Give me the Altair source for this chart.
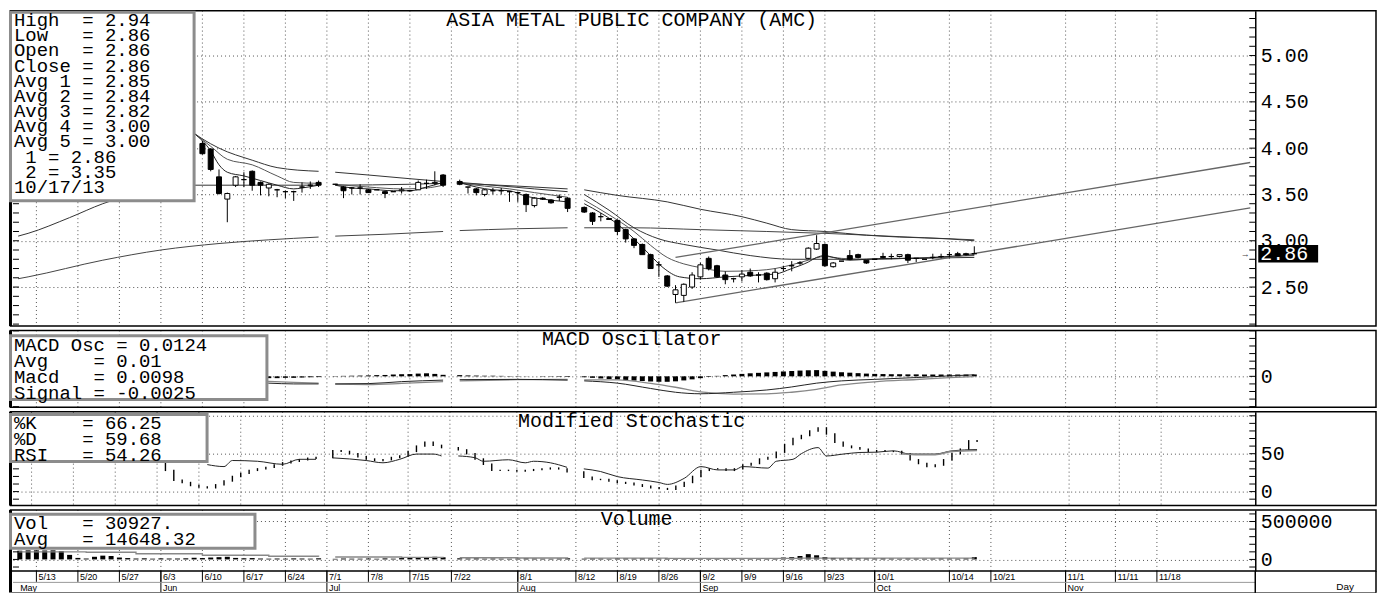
import altair as alt
import pandas as pd
import numpy as np

# ---------------- chart values (trading-day index: 0 = 5/13/2013) ----------------
HOLIDAYS = [35, 50, 65]          # 7/1, 7/22, 8/12 : no session

week_tick = [0, 5, 10, 15, 20, 25, 30, 35, 40, 45, 50, 58, 65, 70, 75, 80, 85, 90, 95, 101, 110, 115, 124, 130, 135]
week_label = ["5/13", "5/20", "5/27", "6/3", "6/10", "6/17", "6/24", "7/1", "7/8", "7/15", "7/22", "8/1",
              "8/12", "8/19", "8/26", "9/2", "9/9", "9/16", "9/23", "10/1", "10/14", "10/21", "11/1", "11/11", "11/18"]
month_tick = [-2.2, 15, 35, 58, 80, 101, 124]
month_label = ["May", "Jun", "Jul", "Aug", "Sep", "Oct", "Nov"]

trade_days = [d for d in range(-2, 114) if d not in HOLIDAYS]
candle_day = [d for d in trade_days if d >= 20]

candle_open = [4.05, 3.99, 3.69, 3.45, 3.60, 3.66, 3.75, 3.63, 3.57, 3.55, 3.53, 3.53, 3.58, 3.60, 3.63,
               3.61, 3.58, 3.57, 3.57, 3.55, 3.55, 3.53, 3.53, 3.54, 3.54, 3.55, 3.62, 3.62, 3.71,
               3.64, 3.58, 3.56, 3.50, 3.54, 3.54, 3.53, 3.52, 3.50, 3.38, 3.46, 3.44, 3.47, 3.46,
               3.36, 3.30, 3.26, 3.24, 3.22, 3.12, 3.02, 2.96, 2.85, 2.74, 2.62, 2.42, 2.41, 2.50, 2.61, 2.81,
               2.73, 2.63, 2.59, 2.61, 2.66, 2.63, 2.65, 2.59, 2.70, 2.73, 2.76, 2.81, 2.91, 2.96, 2.72, 2.78,
               2.84, 2.85, 2.79, 2.80, 2.83, 2.83, 2.83, 2.85, 2.81, 2.80, 2.82, 2.83, 2.85, 2.86, 2.86, 2.86]
candle_high = [4.08, 4.00, 3.77, 3.52, 3.70, 3.74, 3.76, 3.64, 3.62, 3.56, 3.54, 3.54, 3.63, 3.64, 3.65,
               3.61, 3.59, 3.58, 3.61, 3.56, 3.55, 3.54, 3.53, 3.58, 3.55, 3.65, 3.66, 3.75, 3.72,
               3.66, 3.58, 3.57, 3.56, 3.57, 3.57, 3.54, 3.53, 3.51, 3.47, 3.47, 3.45, 3.50, 3.47,
               3.37, 3.31, 3.30, 3.24, 3.23, 3.13, 3.03, 2.97, 2.86, 2.78, 2.63, 2.52, 2.54, 2.66, 2.76, 2.83,
               2.74, 2.67, 2.60, 2.68, 2.70, 2.66, 2.66, 2.70, 2.73, 2.78, 2.78, 2.93, 3.06, 2.97, 2.77, 2.78,
               2.90, 2.86, 2.79, 2.80, 2.87, 2.86, 2.85, 2.86, 2.81, 2.80, 2.86, 2.86, 2.88, 2.88, 2.87, 2.94]
candle_low = [3.93, 3.75, 3.50, 3.20, 3.58, 3.58, 3.54, 3.49, 3.48, 3.47, 3.46, 3.43, 3.52, 3.56, 3.58,
              3.61, 3.46, 3.50, 3.50, 3.52, 3.55, 3.46, 3.53, 3.51, 3.53, 3.55, 3.56, 3.60, 3.58,
              3.60, 3.51, 3.49, 3.48, 3.50, 3.50, 3.42, 3.42, 3.31, 3.36, 3.44, 3.40, 3.43, 3.31,
              3.30, 3.17, 3.21, 3.23, 3.06, 2.98, 2.92, 2.85, 2.70, 2.61, 2.50, 2.33, 2.34, 2.48, 2.58, 2.68,
              2.60, 2.53, 2.55, 2.56, 2.61, 2.55, 2.57, 2.55, 2.67, 2.67, 2.74, 2.80, 2.90, 2.72, 2.71, 2.78,
              2.79, 2.81, 2.75, 2.80, 2.81, 2.80, 2.82, 2.76, 2.77, 2.80, 2.80, 2.81, 2.82, 2.84, 2.84, 2.86]
candle_close = [3.94, 3.77, 3.51, 3.51, 3.69, 3.66, 3.60, 3.60, 3.61, 3.55, 3.53, 3.53, 3.58, 3.60, 3.60,
                3.61, 3.54, 3.57, 3.57, 3.52, 3.55, 3.51, 3.53, 3.55, 3.54, 3.63, 3.62, 3.63, 3.60,
                3.61, 3.58, 3.52, 3.55, 3.54, 3.54, 3.53, 3.52, 3.39, 3.46, 3.45, 3.41, 3.47, 3.35,
                3.31, 3.21, 3.26, 3.23, 3.10, 3.02, 2.95, 2.85, 2.70, 2.74, 2.51, 2.47, 2.53, 2.63, 2.74, 2.70,
                2.61, 2.58, 2.59, 2.64, 2.62, 2.63, 2.58, 2.66, 2.70, 2.73, 2.76, 2.92, 2.97, 2.73, 2.76, 2.78,
                2.80, 2.82, 2.76, 2.80, 2.82, 2.83, 2.85, 2.79, 2.81, 2.80, 2.82, 2.83, 2.85, 2.84, 2.85, 2.86]

avg1_day = [19, 21, 22, 23, 25, 27, 29, 31, 32, 34, 36, 38, 40, 43, 45, 47, 49, 51, 53, 55, 57, 59, 61, 64,
            66, 68, 70, 72, 74, 75.5, 77.5, 80, 83, 87, 89, 91, 93, 94, 95, 96, 98, 100, 103, 106, 110, 113]
avg1_val = [4.16, 3.97, 3.82, 3.74, 3.70, 3.65, 3.60, 3.56, 3.57, 3.60, 3.60, 3.57, 3.56, 3.54, 3.54, 3.58, 3.63,
            3.63, 3.58, 3.55, 3.54, 3.48, 3.45, 3.42,
            3.40, 3.30, 3.18, 3.02, 2.84, 2.71, 2.61, 2.59, 2.61, 2.63, 2.64, 2.70, 2.77, 2.82, 2.84, 2.82, 2.79,
            2.80, 2.81, 2.81, 2.83, 2.85]
avg2_day = [19, 21, 23, 26, 29, 31, 34, 36, 40, 44, 47, 49, 51, 54, 57, 60, 64,
            66, 69, 72, 74, 76, 78, 80, 83, 87, 89, 91, 93, 95, 97, 100, 105, 110, 113]
avg2_val = [4.16, 4.02, 3.88, 3.82, 3.70, 3.63, 3.62, 3.61, 3.58, 3.56, 3.57, 3.60, 3.62, 3.59, 3.56, 3.52, 3.47,
            3.44, 3.28, 3.10, 2.95, 2.82, 2.75, 2.71, 2.67, 2.68, 2.70, 2.74, 2.79, 2.83, 2.81, 2.80, 2.81, 2.83, 2.84]
avg3_day = [19, 20, 22, 26, 29, 34, 36, 40, 45, 49, 51, 55, 60, 64,
            66, 69, 72, 75, 78, 82, 86, 91, 95, 100, 105, 113]
avg3_val = [4.16, 4.10, 4.00, 3.87, 3.79, 3.75, 3.74, 3.71, 3.67, 3.64, 3.63, 3.60, 3.56, 3.53,
            3.50, 3.33, 3.14, 3.02, 2.96, 2.90, 2.84, 2.80, 2.80, 2.80, 2.81, 2.82]
avg4_day = [-2.2, -1, 4, 8, 14, 19, 25, 34, 36, 45, 49, 51, 58, 64,
            66, 70, 76, 80, 85, 88, 91, 95, 100, 104, 110, 113]
avg4_val = [3.05, 3.08, 3.25, 3.40, 3.55, 3.60, 3.60, 3.60, 3.60, 3.61, 3.62, 3.62, 3.59, 3.56,
            3.55, 3.49, 3.42, 3.34, 3.26, 3.19, 3.12, 3.10, 3.06, 3.04, 3.02, 3.00]
avg5_day = [-2.2, -1, 8, 15, 22, 28, 34, 36, 42, 49, 51, 58, 64, 66, 72, 80, 88, 95, 105, 113]
avg5_val = [2.59, 2.61, 2.79, 2.90, 2.97, 3.01, 3.04, 3.05, 3.07, 3.10, 3.11, 3.13, 3.14,
            3.14, 3.14, 3.12, 3.10, 3.08, 3.04, 3.01]

trend_day = [77, 146.25]
trend1_val = [2.33, 3.355]
trend2_val = [2.82, 3.845]

macd_day = [20, 28, 31, 34, 36, 40, 44, 49, 51, 58, 64, 66, 70, 74, 77, 80, 84, 88, 91, 94, 97, 101, 106, 110, 113]
macd_val = [-0.02, -0.045, -0.05, -0.05, -0.05, -0.048, -0.035, -0.025, -0.022, -0.02, -0.025,
            -0.03, -0.045, -0.08, -0.105, -0.115, -0.105, -0.09, -0.07, -0.045, -0.03, -0.02, -0.008, 0.003, 0.0098]
signal_val = [0.0, -0.033, -0.04, -0.045, -0.052, -0.054, -0.047, -0.035, -0.03, -0.022, -0.021,
              -0.024, -0.024, -0.046, -0.072, -0.103, -0.117, -0.116, -0.105, -0.086, -0.057, -0.036, -0.021, -0.009, -0.0025]
osc_val = [-0.02, -0.022, -0.024, -0.022, -0.02, -0.018, -0.016, -0.014, -0.012, -0.012, -0.01, -0.01, -0.008, -0.006, -0.005,
           0.002, 0.003, 0.004, 0.005, 0.006, 0.008, 0.009, 0.012, 0.014, 0.015, 0.018, 0.02, 0.016, 0.01,
           0.008, 0.006, 0.005, 0.004, 0.004, 0.003, 0.002, 0.002, 0.001, 0.0, -0.002, -0.002, -0.003, -0.004,
           -0.006, -0.01, -0.014, -0.018, -0.021, -0.025, -0.028, -0.031, -0.034, -0.036, -0.036, -0.033, -0.027, -0.02, -0.012,
           -0.004, 0.003, 0.008, 0.012, 0.016, 0.02, 0.023, 0.026, 0.029, 0.032, 0.035, 0.038, 0.04, 0.041, 0.036,
           0.031, 0.027, 0.024, 0.021, 0.018, 0.016, 0.015, 0.014, 0.014, 0.013, 0.013, 0.012, 0.012, 0.012, 0.012, 0.012, 0.012, 0.0124]

k_day = [d for d in trade_days if d >= 15]
k_val = [40, 28, 15, 12, 8, 6, 5, 9, 14, 20, 24, 28, 30, 32, 35, 38, 40, 42, 44, 45,
         54, 53, 50, 46, 43, 41, 42, 45, 47, 53, 60, 65, 61, 58,
         55, 50, 43, 36, 28, 28, 28, 27, 28, 29, 30, 31, 30, 26,
         19, 16, 16, 14, 12, 11, 9, 7, 5, 4, 3, 7, 12, 20, 28, 30, 30, 28, 30, 35, 37, 43, 45, 52,
         62, 70, 74, 80, 84, 76, 65, 60, 58, 56, 53, 54, 53, 53, 50, 42, 37, 33, 35, 42, 50, 56, 67, 66.25]
d_day = [21, 23, 24, 27, 30, 32, 34, 36, 40, 42, 44, 46, 48, 49, 51, 53, 54, 57, 59, 60, 62, 64,
         66, 68, 70, 73, 75, 76, 78, 80, 82, 84, 85, 88, 89, 91, 92, 94, 95, 97, 99, 101, 103, 105, 108, 110, 113]
d_val = [35.6, 33, 41, 40, 36, 42.6, 42.6, 44.5, 41, 38, 42.6, 49.5, 49.5, 47, 47, 44.7, 40, 42, 38, 40, 38, 32,
         30, 26.5, 19.8, 15.3, 12, 9.5, 17.5, 33, 28.6, 28.6, 33, 31, 40, 42.6, 50, 58, 47, 49.5, 51.6, 52,
         53.8, 49.5, 49.5, 53.8, 55.5]
rsi_day = [104, 106, 108, 110, 113]
rsi_val = [50, 48.6, 48.6, 53, 54.26]

vol_day = trade_days
vol_val = [115000, 120000, 120000, 118000, 120000, 110000, 60000, 20000, 12000, 35000, 50000, 45000, 25000, 18000,
           12000, 15000, 10000, 14000, 12000, 12000, 15000, 22000, 18000, 25000, 30000, 35000, 20000, 15000, 18000,
           12000, 10000, 12000, 10000, 14000, 12000, 10000, 15000,
           8000, 12000, 10000, 10000, 12000, 9000, 14000, 10000, 18000, 22000, 30000, 25000, 35000, 28000,
           15000, 12000, 14000, 10000, 12000, 10000, 9000, 12000, 15000, 12000, 10000, 9000, 12000, 15000,
           10000, 14000, 12000, 9000, 15000, 14000, 12000, 15000, 14000, 12000, 15000, 16000, 14000, 12000, 10000,
           12000, 10000, 9000, 10000, 12000, 10000, 12000, 14000, 15000, 25000, 30000, 45000, 70000, 55000, 30000,
           20000, 15000, 20000, 18000, 14000, 12000, 15000, 12000, 10000, 14000, 12000, 10000, 12000, 14000, 12000,
           10000, 14000, 30927]
vavg_day = [-2.2, 6, 12, 20, 28, 34, 36, 44, 49, 51, 58, 64, 66, 76, 86, 92, 96, 104, 113]
vavg_val = [100000, 95000, 75000, 55000, 42000, 34000, 32000, 26000, 24000, 22000, 19000, 17000,
            16000, 14000, 13000, 16000, 18000, 16000, 14648]

price_legend = ["High  = 2.94", "Low   = 2.86", "Open  = 2.86", "Close = 2.86", "Avg 1 = 2.85", "Avg 2 = 2.84",
                "Avg 3 = 2.82", "Avg 4 = 3.00", "Avg 5 = 3.00", " 1 = 2.86", " 2 = 3.35", "10/17/13"]
macd_legend = ["MACD Osc = 0.0124", "Avg    = 0.01", "Macd   = 0.0098", "Signal = -0.0025"]
stoch_legend = ["%K    = 66.25", "%D    = 59.68", "RSI   = 54.26"]
vol_legend = ["Vol   = 30927.", "Avg   = 14648.32"]

# ---------------- layout / helpers ----------------
W = 1245
RIGHT = 121
XDOM = [-2.22, 146.25]
MONO = "Liberation Mono"
SANS_N = "Liberation Sans Narrow, Liberation Sans, sans-serif"
GRIDC = "#555555"
FS = 20        # axis labels and panel titles
LFS = 19       # legend boxes
NBSP = "\u00a0"

XS = alt.Scale(domain=XDOM, nice=False, zero=False)
ONE = pd.DataFrame({"a": [0]})


def X(f="i"):
    return alt.X(f"{f}:Q", scale=XS, axis=None)


def seg_of(d):
    return sum(1 for h in HOLIDAYS if d > h)


def yaxis(values, fmt, label_expr=None):
    kw = dict(orient="right", values=values, format=fmt, ticks=False, domain=True,
              domainColor="black", domainWidth=1.5, labelFont=MONO, labelFontSize=FS,
              labelColor="black", labelPadding=5, labelAlign="left", labelBaseline="middle",
              labelOverlap=False, grid=True, gridDash=[1, 3], gridColor=GRIDC, gridOpacity=1,
              gridWidth=1, title=None)
    if label_expr:
        kw["labelExpr"] = label_expr
    return alt.Axis(**kw)


def Yq(field, ysc, yax):
    return alt.Y(f"{field}:Q", scale=ysc, axis=yax, title=None)


def common(H, ysc, yax, tick_vals, extra_bottom=0):
    grid = alt.Chart(pd.DataFrame({"i": week_tick})).mark_rule(
        color=GRIDC, strokeDash=[1, 3], strokeWidth=1).encode(x=X(), y=alt.value(0), y2=alt.value(H))
    tdf = pd.DataFrame({"t": tick_vals})
    rt = alt.Chart(tdf).mark_rule(color="black", strokeWidth=1).encode(
        x=alt.value(W - 6), x2=alt.value(W), y=Yq("t", ysc, yax))
    lt = alt.Chart(tdf).mark_rule(color="black", strokeWidth=1).encode(
        x=alt.value(0), x2=alt.value(6), y=Yq("t", ysc, yax))
    box = alt.Chart(ONE).mark_rect(fillOpacity=0, stroke="black", strokeWidth=1.5).encode(
        x=alt.value(-2.5), x2=alt.value(W + RIGHT), y=alt.value(0), y2=alt.value(H))
    left = alt.Chart(ONE).mark_rule(color="black", strokeWidth=3).encode(
        x=alt.value(-2.5), y=alt.value(0), y2=alt.value(H + extra_bottom))
    return grid, [rt, lt, box, left]


def line_layer(days, vals, color, ysc, yax, width=1.0, interp="monotone"):
    df = pd.DataFrame({"i": days, "v": vals})
    df["seg"] = [seg_of(d) for d in days]
    return alt.Chart(df).mark_line(color=color, strokeWidth=width, interpolate=interp).encode(
        x=X(), y=Yq("v", ysc, yax), detail="seg:N")


def keep_spaces(s):
    s = s.replace(" ", NBSP)
    return ("\u200b" + s) if s.startswith(NBSP) else s


def legend(x2, y1, y2, lines, y_first, lh):
    rect = alt.Chart(ONE).mark_rect(fill="white", stroke="#8c8c8c", strokeWidth=3).encode(
        x=alt.value(-2.5), x2=alt.value(x2), y=alt.value(y1), y2=alt.value(y2))
    text = "\n".join(keep_spaces(s) for s in lines)
    txt = alt.Chart(pd.DataFrame({"t": [text]})).mark_text(
        align="left", baseline="middle", font=MONO, fontSize=LFS, lineBreak="\n", lineHeight=lh,
        color="black").encode(x=alt.value(1), y=alt.value(y_first), text="t:N")
    return [rect, txt]


def title(text, x, y, baseline="middle"):
    return alt.Chart(pd.DataFrame({"t": [text]})).mark_text(
        align="center", baseline=baseline, font=MONO, fontSize=FS, color="black").encode(
        x=alt.value(x), y=alt.value(y), text="t:N")


# ---------------- price panel ----------------
PH = 316
psc = alt.Scale(domain=[2.08, 5.485], nice=False, zero=False)
pax = yaxis([2.5, 3.0, 3.5, 4.0, 4.5, 5.0], ".2f")
pgrid, pframe = common(PH, psc, pax, [round(2.1 + 0.1 * k, 2) for k in range(34)])

cdf = pd.DataFrame({"i": candle_day, "o": candle_open, "h": candle_high, "l": candle_low, "c": candle_close})
cdf["fill"] = np.where(cdf["c"] < cdf["o"], "black", "white")
wick = alt.Chart(cdf).mark_rule(color="black", strokeWidth=1).encode(x=X(), y=Yq("l", psc, pax), y2="h:Q")
body = alt.Chart(cdf).mark_bar(size=5, stroke="black", strokeWidth=1).encode(
    x=X(), y=Yq("o", psc, pax), y2="c:Q", fill=alt.Fill("fill:N", scale=None))

mk = pd.DataFrame({"v": [candle_close[-1]], "t": [f"{candle_close[-1]:.2f}"]})
mk_box = alt.Chart(mk).mark_point(shape="M-1,-0.29L1,-0.29L1,0.29L-1,0.29Z", size=3600, filled=True,
                                  color="black", opacity=1).encode(x=alt.value(W + 33), y=Yq("v", psc, pax))
mk_txt = alt.Chart(mk).mark_text(align="left", baseline="middle", font=MONO, fontSize=FS, color="white").encode(
    x=alt.value(W + 5), y=Yq("v", psc, pax), text="t:N")
mk_arrow = alt.Chart(mk).mark_text(align="center", baseline="middle", fontSize=9, color="#444444").encode(
    x=alt.value(W - 10), y=Yq("v", psc, pax), text=alt.value("→"))

price = alt.layer(
    pgrid,
    line_layer(avg5_day, avg5_val, "#444444", psc, pax),
    line_layer(avg4_day, avg4_val, "#333333", psc, pax),
    line_layer(avg3_day, avg3_val, "#333333", psc, pax),
    line_layer(avg2_day, avg2_val, "#555555", psc, pax),
    line_layer(avg1_day, avg1_val, "#222222", psc, pax),
    line_layer(trend_day, trend1_val, "#666666", psc, pax, 1.3, "linear"),
    line_layer(trend_day, trend2_val, "#666666", psc, pax, 1.3, "linear"),
    wick, body, *pframe,
    title("ASIA METAL PUBLIC COMPANY (AMC)", 620, -1, "top"),
    *legend(181.5, 1.5, 190.5, price_legend, 9.5, 15.2),
    mk_box, mk_txt, mk_arrow,
).properties(width=W, height=PH)

# ---------------- MACD panel ----------------
MH = 77
msc = alt.Scale(domain=[-0.204, 0.3026], nice=False, zero=False)
max_ = yaxis([0], "d")
mgrid, mframe = common(MH, msc, max_, [round(-0.2 + 0.05 * k, 3) for k in range(11)])
odf = pd.DataFrame({"i": candle_day, "o": osc_val})
osc = alt.Chart(odf).mark_bar(size=5, color="black").encode(x=X(), y=Yq("o", msc, max_), y2=alt.datum(0))
macd = alt.layer(
    mgrid, osc,
    line_layer(macd_day, signal_val, "#888888", msc, max_, 1.3),
    line_layer(macd_day, macd_val, "#222222", msc, max_, 1.0),
    *mframe,
    title("MACD Oscillator", 620, 9),
    *legend(254.5, 5.25, 69.25, macd_legend, 14.5, 16),
).properties(width=W, height=MH)

# ---------------- Stochastic panel ----------------
SH = 94
ssc = alt.Scale(domain=[-18.4, 105.3], nice=False, zero=False)
sax = yaxis([0, 50, 100], "d", "datum.value == 100 ? '' : datum.label")
sgrid, sframe = common(SH, ssc, sax, list(range(-10, 101, 10)))
kdf = pd.DataFrame({"i": k_day, "k": k_val})
kdf["kp"] = [k_val[0]] + k_val[:-1]
kseg = alt.Chart(kdf).mark_rule(color="black", strokeWidth=1.4, strokeCap="square").encode(
    x=X(), y=Yq("k", ssc, sax), y2="kp:Q")
stoch = alt.layer(
    sgrid, kseg,
    line_layer(d_day, d_val, "#222222", ssc, sax, 1.0),
    line_layer(rsi_day, rsi_val, "#888888", ssc, sax, 1.6),
    *sframe,
    title("Modified Stochastic", 620, 9.5),
    *legend(194.5, 2.75, 49.75, stoch_legend, 11, 16),
).properties(width=W, height=SH)

# ---------------- Volume panel ----------------
VH = 61
vsc = alt.Scale(domain=[-151300, 651300], nice=False, zero=False)
vax = yaxis([0, 500000], "d")
vgrid, vframe = common(VH, vsc, vax, list(range(-100000, 650001, 100000)), extra_bottom=22)
vdf = pd.DataFrame({"i": vol_day, "v": vol_val})
vbars = alt.Chart(vdf).mark_bar(size=5, color="black").encode(x=X(), y=Yq("v", vsc, vax), y2=alt.datum(0))

wk = pd.DataFrame({"i": week_tick, "t": week_label})
mo = pd.DataFrame({"i": month_tick, "t": month_label})
strip = [
    alt.Chart(wk).mark_rule(color="black", strokeWidth=1).encode(x=X(), y=alt.value(VH), y2=alt.value(VH + 11)),
    alt.Chart(wk).mark_text(align="left", baseline="middle", dx=2, font=SANS_N, fontSize=9, color="black").encode(
        x=X(), y=alt.value(VH + 6), text="t:N"),
    alt.Chart(mo.iloc[1:]).mark_rule(color="black", strokeWidth=1).encode(
        x=X(), y=alt.value(VH), y2=alt.value(VH + 22)),
    alt.Chart(mo).mark_text(align="left", baseline="middle", dx=2, font=SANS_N, fontSize=9, color="black").encode(
        x=X(), y=alt.value(VH + 17), text="t:N"),
    alt.Chart(ONE).mark_rule(color="#999999", strokeWidth=1).encode(
        x=alt.value(0), x2=alt.value(W), y=alt.value(VH + 11.5)),
    alt.Chart(ONE).mark_rule(color="#777777", strokeWidth=1.5).encode(
        x=alt.value(-4), x2=alt.value(W + RIGHT), y=alt.value(VH + 22)),
    alt.Chart(ONE).mark_rule(color="black", strokeWidth=1.5).encode(
        x=alt.value(W), y=alt.value(VH), y2=alt.value(VH + 22)),
    alt.Chart(ONE).mark_rule(color="black", strokeWidth=1.5).encode(
        x=alt.value(W + RIGHT), y=alt.value(VH), y2=alt.value(VH + 22)),
    alt.Chart(ONE).mark_text(font="Liberation Sans", fontSize=10, color="black").encode(
        x=alt.value(W + 90), y=alt.value(VH + 16), text=alt.value("Day")),
]

vol = alt.layer(
    vgrid, vbars,
    line_layer(vavg_day, vavg_val, "#888888", vsc, vax, 1.3, "step-after"),
    *vframe,
    title("Volume", 625, 9),
    *legend(242.5, 4.25, 38.25, vol_legend, 13, 16),
    *strip,
).properties(width=W, height=VH)

chart = alt.vconcat(price, macd, stoch, vol, spacing=4.5, bounds="flush").resolve_scale(
    y="independent").properties(padding=0).configure_view(strokeWidth=0)

chart.save("out.html", embed_options={"renderer": "svg", "actions": False})
